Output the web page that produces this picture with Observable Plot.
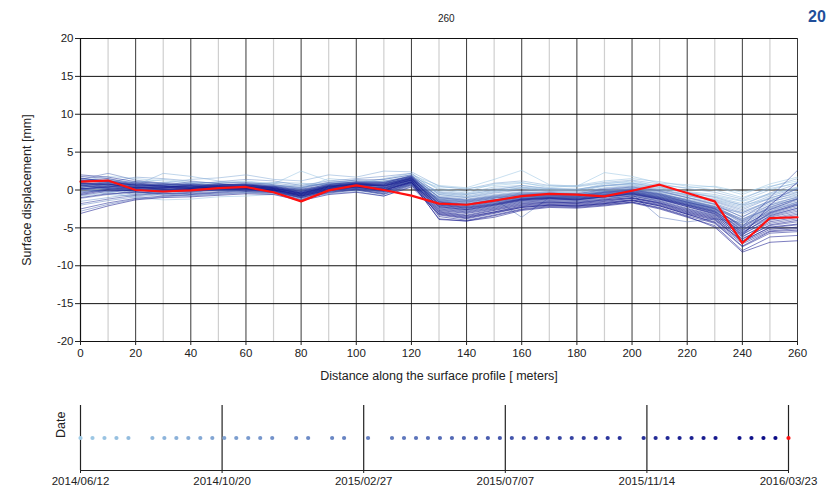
<!DOCTYPE html>
<html><head><meta charset="utf-8">
<script src="https://cdn.jsdelivr.net/npm/d3@7"></script>
<script src="https://cdn.jsdelivr.net/npm/@observablehq/plot@0.6"></script>
<style>
body{margin:0;background:#fff;width:829px;height:496px;overflow:hidden;position:relative;font-family:"Liberation Sans",Arial,sans-serif;}
#main{position:absolute;left:0;top:0}
#dates{position:absolute;left:0;top:390px}
#title{position:absolute;top:13px;left:438px;font:10px "Liberation Sans Narrow","Liberation Sans",sans-serif;color:#222}
#corner{position:absolute;top:8px;left:808px;font:bold 16px "Liberation Sans",sans-serif;color:#1f4e9a}
svg g[aria-label="x-axis label"] text, svg g[aria-label="y-axis label"] text{font-family:"Liberation Sans",Arial,sans-serif;font-size:12.5px;fill:#222}
svg g[aria-label="x-axis tick label"] text, svg g[aria-label="y-axis tick label"] text{font-family:"Liberation Sans Narrow","Liberation Sans",sans-serif;font-size:11.5px;fill:#222}
</style></head><body>
<div id="title">260</div><div id="corner">20</div>
<div id="main"></div><div id="dates"></div>
<script>
// Profile positions [m]
const positions = [0,10,20,30,40,50,60,70,80,90,100,110,120,130,140,150,160,170,180,190,200,210,220,230,240,250,260];
// Acquisition dates (oldest -> newest); the last one is the highlighted (red) profile
const acquisitionDates = [
 "2014-06-12","2014-06-23","2014-07-04","2014-07-15","2014-07-26",
 "2014-08-17","2014-08-28","2014-09-08","2014-09-19","2014-09-30","2014-10-11","2014-10-22","2014-11-02","2014-11-13","2014-11-24","2014-12-05",
 "2014-12-27","2015-01-07","2015-01-29","2015-02-09","2015-03-03",
 "2015-03-25","2015-04-05","2015-04-16","2015-04-27","2015-05-08","2015-05-19","2015-05-30","2015-06-10","2015-06-21","2015-07-02",
 "2015-07-13","2015-07-24","2015-08-04","2015-08-15","2015-08-26","2015-09-06","2015-09-17","2015-09-28","2015-10-09","2015-10-20",
 "2015-11-11","2015-11-22","2015-12-03","2015-12-14","2015-12-25","2016-01-05","2016-01-16",
 "2016-02-07","2016-02-18","2016-02-29","2016-03-11","2016-03-23"];
// Date axis tick labels
const dateTickLabels = ["2014-06-12","2014-10-20","2015-02-27","2015-07-07","2015-11-14","2016-03-23"];
const xTicks = [0,20,40,60,80,100,120,140,160,180,200,220,240,260];
const yTicks = [-20,-15,-10,-5,0,5,10,15,20];
// Surface displacement [mm] per acquisition (blue profiles, oldest first)
const blueProfiles = [
 [0.6,0.8,0.5,0.7,0.4,0.6,0.5,0.3,0.8,0.6,0.9,1.2,1.6,0.4,0.2,0.6,0.9,0.5,0.4,0.9,1.0,0.6,0.3,0.5,-0.3,0.5,1.2],
 [1.5,1.2,1.0,1.4,1.0,0.9,1.2,0.8,2.5,1.2,1.0,1.4,2.0,0.6,0.3,1.4,2.6,0.7,0.5,2.3,1.8,0.9,0.7,0.4,-0.6,0.8,1.7],
 [0.2,-0.2,-1.0,-1.3,-1.2,-0.9,-0.8,-0.6,-0.4,-0.2,0.2,0.8,1.4,-0.5,-0.6,-0.1,0.3,0.2,0.1,0.6,0.8,0.2,-0.3,-0.8,-1.5,-0.5,0.4],
 [1.2,1.8,1.5,1.2,0.9,1.0,1.1,0.7,0.2,1.5,1.2,0.9,1.8,0.2,-0.2,0.8,1.0,0.3,0.6,1.2,1.5,1.1,0.5,0.0,-1.0,0.2,0.9],
 [0.0,0.4,0.8,0.3,0.6,0.2,0.4,0.5,-0.3,0.4,0.5,0.2,1.0,-0.6,-0.9,-0.3,0.2,-0.2,-0.4,0.3,0.6,0.0,-0.6,-1.2,-2.0,-1.2,-0.5],
 [-0.8,-0.4,0.2,0.6,0.5,0.8,0.3,0.0,0.3,0.9,0.8,1.5,2.2,0.0,-0.4,0.4,0.6,0.1,0.0,0.8,1.2,0.5,-0.2,-0.6,-1.4,0.0,1.0],
 [0.8,1.0,0.6,2.2,1.8,1.2,0.8,1.0,0.9,0.7,1.4,1.0,1.5,-0.2,-0.5,0.2,0.4,0.0,-0.2,0.5,0.9,0.3,-0.4,-0.9,-1.8,-0.6,0.3],
 [0.4,0.2,-0.3,-0.5,-0.2,0.1,0.6,0.4,0.0,0.3,0.4,0.6,1.2,-0.8,-1.0,-0.6,-0.2,-0.3,-0.5,0.0,0.4,-0.2,-0.8,-1.4,-2.4,-1.0,-0.2],
 [1.0,0.6,1.2,0.9,1.4,1.6,2.0,1.4,1.2,2.0,1.7,2.5,2.4,0.5,0.1,0.9,1.2,0.6,0.5,1.0,1.3,0.8,0.2,-0.3,-1.2,0.4,1.5],
 [-0.3,0.3,0.0,-0.4,0.2,-0.1,-0.3,-0.4,-0.8,-0.2,0.0,-0.5,0.7,-1.0,-1.3,-0.8,-0.4,-0.5,-0.6,-0.2,0.2,-0.3,-1.0,-1.6,-2.8,-1.5,-0.8],
 [0.9,1.4,0.4,0.2,0.8,0.5,0.9,0.6,0.4,1.0,1.1,0.4,1.3,-0.4,-0.8,-0.2,0.3,-0.1,-0.1,0.6,0.7,0.1,-0.6,-1.3,-2.2,-0.8,0.2],
 [0.3,-0.6,-0.8,-0.4,-0.6,-0.3,0.0,0.2,-0.5,0.6,0.3,0.0,0.9,-1.2,-1.5,-1.0,-0.6,-0.6,-0.7,-0.3,0.0,-0.5,-1.2,-1.9,-3.2,-1.8,-1.0],
 [1.3,1.0,1.7,1.5,1.2,0.8,0.7,0.9,0.5,0.8,0.9,1.2,1.7,-0.3,-0.6,0.0,0.6,0.2,0.1,0.6,0.9,0.4,-0.3,-1.0,-2.0,-0.4,0.8],
 [-1.5,-1.0,-0.5,0.0,-0.3,0.2,0.4,0.0,-0.6,0.2,0.6,0.3,1.1,-1.3,-1.6,-1.1,-0.7,-0.7,-0.8,-0.4,-0.1,-0.6,-1.3,-2.1,-3.5,-2.0,-1.2],
 [0.7,0.9,0.2,0.5,0.0,0.4,0.2,-0.2,-0.9,0.0,0.2,-0.3,0.8,-1.1,-1.4,-0.9,-1.2,-0.8,-0.5,-0.6,-0.3,-0.7,-1.5,-2.3,-3.0,-1.6,-0.6],
 [0.5,0.3,0.9,1.0,0.7,1.1,1.4,1.2,0.6,1.2,1.5,1.8,2.2,-0.6,-1.0,-0.4,0.0,-0.2,-0.3,0.2,0.5,0.0,-0.7,-1.5,-2.6,-1.1,0.1],
 [-2.0,-1.4,-0.9,-0.6,-0.8,-0.5,-0.4,-0.5,-1.2,-0.5,-0.2,-0.8,0.5,-1.6,-1.9,-1.4,-1.0,-0.9,-1.0,-0.7,-0.4,-0.9,-1.6,-2.4,-3.8,-2.5,-1.6],
 [1.1,1.5,0.7,0.4,0.9,0.6,0.5,0.3,0.1,0.5,0.7,0.9,1.5,-0.9,-1.2,-0.7,-0.3,-0.4,-0.5,0.0,0.3,-0.2,-1.0,-1.8,-3.0,-1.4,-0.3],
 [0.1,0.6,0.3,0.8,0.4,0.0,-0.2,0.1,-0.4,0.4,0.5,0.6,1.4,-1.4,-1.7,-1.2,-3.6,-1.0,-0.9,-0.5,-0.2,-0.8,-1.6,-2.5,-4.0,-2.2,-1.2],
 [0.6,0.1,-0.4,-0.2,0.3,0.5,0.8,0.6,0.2,0.9,1.0,1.1,1.9,-1.0,-1.3,-0.8,-0.4,-0.4,-0.6,-0.1,-0.5,-3.6,-4.2,-3.8,-4.3,-2.6,-1.8],
 [-0.5,0.2,0.5,0.1,-0.1,0.3,0.1,-0.2,-0.7,0.1,0.4,0.2,1.2,-1.5,-1.9,-1.3,-0.8,-0.7,-0.8,-0.3,0.0,-0.6,-1.5,-2.4,-4.2,-2.4,-1.4],
 [1.4,2.2,1.3,0.9,0.6,0.4,0.7,0.4,-0.2,0.7,0.9,0.5,1.6,-1.2,-1.5,-1.0,-0.6,-0.5,-0.7,-0.2,0.2,-0.4,-1.3,-2.2,-3.9,-2.0,-0.9],
 [-2.8,-1.9,-1.2,-0.9,-0.7,-0.6,-0.3,-0.4,-1.0,-0.3,0.0,-0.4,0.9,-1.8,-2.2,-1.6,-1.1,-1.0,-1.1,-0.8,-0.5,-1.0,-1.8,-2.7,-4.6,-3.0,-2.0],
 [0.8,0.5,0.0,0.3,0.1,0.7,0.6,0.2,-0.3,0.6,0.8,1.0,1.8,-1.4,-1.8,-1.3,-0.7,-0.6,-0.7,-0.2,0.1,-0.5,-1.4,-2.3,-4.4,-2.8,-1.6],
 [0.2,-0.3,0.4,0.6,0.9,0.3,0.0,-0.3,-0.9,-0.1,0.3,-0.2,0.7,-2.0,-2.4,-1.8,-1.2,-1.1,-1.2,-0.9,-0.6,-1.2,-2.0,-2.9,-5.0,-3.3,-2.4],
 [1.0,1.3,0.8,0.6,1.1,0.9,1.0,0.7,0.3,1.0,1.3,1.4,2.0,-1.0,-1.4,-0.9,-0.5,-0.4,-0.5,0.1,0.4,-0.1,-1.0,-1.9,-3.6,-1.5,0.2],
 [-1.1,-0.6,-0.2,-0.7,-0.4,-0.2,0.2,0.0,-0.5,0.3,0.5,0.1,1.1,-1.7,-2.1,-1.5,-1.0,-0.9,-1.0,-0.6,-0.3,-0.9,-1.7,-2.6,-4.8,-3.2,-2.2],
 [0.4,0.7,1.0,0.5,0.3,0.8,0.4,0.1,0.0,0.5,0.6,0.8,1.5,-1.3,-1.6,-1.1,-0.6,-0.6,-0.8,-0.3,0.0,-0.5,-1.4,-2.2,-4.1,-2.3,-1.1],
 [-0.2,0.0,-0.6,-0.3,0.0,0.4,0.3,0.0,-0.6,0.2,0.4,0.3,1.3,-1.6,-2.0,-1.4,-0.9,-0.8,-0.9,-0.5,-0.2,-0.8,-1.7,-2.5,-4.7,-2.9,-1.9],
 [1.6,1.1,0.6,0.8,0.5,0.2,0.5,0.3,-0.4,0.4,0.7,0.4,1.5,-1.9,-2.3,-1.7,-1.2,-1.0,-1.1,-0.7,-0.4,-1.0,-1.9,-2.8,-5.2,-3.5,-2.6],
 [0.0,0.4,0.2,0.0,-0.2,0.1,0.2,-0.1,-0.8,0.0,0.3,0.0,1.0,-2.2,-2.6,-2.0,-1.4,-1.2,-1.3,-1.0,-0.7,-1.3,-2.2,-3.1,-5.5,-3.8,-3.0],
 [0.9,0.6,0.3,0.4,0.2,0.5,0.7,0.4,-0.2,0.6,0.9,0.7,1.7,-1.5,-1.9,-1.3,-0.8,-0.7,-0.8,-0.3,0.0,-0.6,-1.6,-2.5,-4.9,-1.0,2.6],
 [-0.7,-0.2,0.1,-0.1,0.2,0.0,-0.1,-0.3,-1.0,-0.2,0.1,-0.3,0.8,-2.4,-2.8,-2.2,-1.5,-1.3,-1.4,-1.1,-0.8,-1.4,-2.4,-3.3,-5.8,-4.0,-3.4],
 [0.5,1.0,0.5,0.2,0.4,0.6,0.3,0.2,-0.5,0.3,0.6,0.6,1.4,-1.8,-2.2,-1.6,-1.1,-0.9,-1.0,-0.6,-0.2,-0.9,-1.8,-2.7,-5.3,-3.0,-1.8],
 [1.8,1.5,0.9,0.7,0.6,0.3,0.4,0.0,-0.7,0.1,0.5,0.2,1.2,-2.6,-3.0,-2.4,-1.7,-1.5,-1.6,-1.3,-1.0,-1.6,-2.6,-3.5,-6.1,-4.4,-3.8],
 [-1.8,-1.2,-0.7,-0.4,-0.5,-0.3,0.0,-0.2,-0.9,0.0,0.3,0.0,1.0,-2.1,-2.5,-1.9,-1.3,-1.1,-1.2,-0.9,-0.5,-1.1,-2.0,-3.0,-5.6,-3.6,-2.8],
 [0.3,0.8,0.0,0.2,0.7,0.4,0.6,0.5,-0.1,0.8,1.0,0.9,1.9,-1.6,-2.0,-1.5,-0.9,-0.8,-0.9,-0.4,-0.1,-0.7,-1.6,-2.4,-5.0,-2.6,-1.2],
 [0.7,0.2,-0.2,-0.5,-0.3,0.0,0.1,-0.2,-1.1,-0.4,0.0,-0.6,0.6,-2.8,-3.3,-2.6,-1.9,-1.6,-1.7,-1.4,-1.1,-1.7,-2.8,-3.7,-6.4,-4.7,-4.2],
 [1.2,0.9,0.5,0.6,0.3,0.7,0.8,0.5,0.1,0.7,1.1,1.0,1.8,-1.9,-2.3,-1.8,-1.2,-1.0,-1.1,-0.7,-0.3,-1.0,-1.9,-2.8,-5.4,-3.1,-2.0],
 [-0.4,0.1,0.3,0.1,0.0,0.2,0.3,0.1,-0.6,0.2,0.5,0.1,1.1,-3.0,-3.5,-2.9,-2.1,-1.8,-1.9,-1.6,-1.3,-1.9,-3.0,-3.9,-6.7,-5.0,-4.6],
 [2.0,1.7,1.1,0.8,0.7,0.5,0.4,0.3,-0.3,0.5,0.8,0.5,1.6,-2.3,-2.7,-2.1,-1.4,-1.2,-1.3,-0.9,-0.6,-1.2,-2.1,-3.1,-5.9,-3.9,-3.2],
 [-2.5,-1.7,-1.1,-0.8,-0.6,-0.4,-0.2,-0.3,-1.3,-0.3,0.1,-0.5,0.7,-3.3,-3.8,-3.1,-2.3,-2.0,-2.1,-1.8,-1.4,-2.1,-3.2,-4.2,-7.1,-5.4,-5.1],
 [0.6,0.4,0.8,0.5,0.2,0.5,0.5,0.2,-0.4,0.4,0.8,0.7,1.6,-2.0,-2.4,-1.9,-1.2,-1.0,-1.2,-0.8,-0.4,-1.1,-2.0,-2.9,-5.7,-3.4,-2.4],
 [0.1,0.5,0.2,0.3,0.5,0.1,0.0,-0.1,-0.8,0.1,0.4,0.2,1.3,-3.5,-4.0,-3.3,-2.5,-2.1,-2.2,-1.9,-1.6,-2.3,-3.4,-4.4,-7.5,-5.7,-5.5],
 [1.3,1.1,0.6,0.4,0.6,0.8,0.6,0.4,-0.2,0.6,0.9,0.8,1.7,-2.5,-2.9,-2.3,-1.6,-1.4,-1.5,-1.2,-0.8,-1.5,-2.5,-3.4,-6.2,-4.2,-3.6],
 [-1.0,-0.5,-0.3,-0.2,-0.1,0.0,0.1,-0.1,-1.0,-0.1,0.2,-0.2,0.9,-3.8,-4.1,-3.6,-2.7,-2.3,-2.4,-2.1,-1.7,-2.5,-3.6,-4.7,-8.0,-6.2,-6.0],
 [0.8,0.7,0.4,0.1,0.3,0.4,0.2,0.0,-0.6,0.3,0.6,0.3,1.4,-2.7,-3.1,-2.5,-1.8,-1.6,-1.7,-1.3,-1.0,-1.7,-2.7,-3.6,-6.5,-4.6,-4.0],
 [-3.1,-2.1,-1.3,-1.0,-0.9,-0.7,-0.5,-0.6,-1.4,-0.6,-0.3,-0.8,0.4,-3.1,-3.6,-2.9,-2.2,-1.9,-2.0,-1.7,-1.3,-2.0,-3.1,-4.0,-6.9,-5.2,-4.9],
 [1.5,1.2,0.7,0.5,0.4,0.6,0.7,0.3,-0.4,0.5,0.8,0.6,1.5,-2.2,-2.6,-2.0,-1.3,-1.1,-1.3,-0.9,-0.5,-1.2,-2.2,-3.2,-6.0,-2.0,1.0],
 [0.2,0.3,0.0,-0.2,0.1,0.3,0.4,0.1,-0.7,0.2,0.5,0.0,1.1,-3.9,-4.1,-3.4,-2.6,-2.2,-2.3,-2.0,-1.6,-2.4,-3.5,-4.9,-8.2,-6.9,-6.7],
 [0.9,0.8,0.3,0.3,0.2,0.4,0.5,0.2,-0.5,0.4,0.7,0.5,1.3,-2.9,-3.4,-2.7,-2.0,-1.7,-1.8,-1.5,-1.1,-1.8,-2.9,-3.8,-6.8,-4.9,-4.5],
 [-0.6,0.0,-0.1,0.0,0.0,0.2,0.2,0.0,-0.8,0.0,0.4,-0.1,1.0,-3.2,-3.7,-3.0,-2.3,-2.0,-2.1,-1.8,-1.4,-2.1,-3.2,-4.3,-7.4,-5.5,-5.3]
];
// Latest profile (2016-03-23), drawn in red
const latestProfile = [1.1,1.25,0.0,-0.2,-0.05,0.25,0.4,-0.3,-1.5,-0.05,0.6,0.0,-0.75,-1.8,-1.95,-1.4,-0.8,-0.5,-0.6,-0.85,-0.1,0.7,-0.4,-1.5,-7.0,-3.7,-3.6];

const nBlue = blueProfiles.length;
const ramp = d3.interpolateRgb("#9fcbe6", "#0a0a86");
const colorOf = i => ramp(i / (nBlue - 1));
const parse = d3.utcParse("%Y-%m-%d");
const plainNum = d => String(d);

const blueRows = [];
blueProfiles.forEach((vals, i) => vals.forEach((v, j) => blueRows.push({pos: positions[j], disp: v, i, color: colorOf(i)})));
const redRows = latestProfile.map((v, j) => ({pos: positions[j], disp: v}));
const minorX = positions.filter(p => p % 20 !== 0);
const majorX = positions.filter(p => p % 20 === 0 && p > 0);

const main = Plot.plot({
  width: 829, height: 385,
  marginLeft: 80, marginRight: 32, marginTop: 38, marginBottom: 44,
  style: {fontFamily: "'Liberation Sans Narrow','Liberation Sans',sans-serif", fontSize: "11.5px", color: "#222", background: "transparent"},
  x: {domain: [0, 260]},
  y: {domain: [-20, 20]},
  marks: [
    Plot.ruleX(minorX, {stroke: "#cfcfcf", strokeWidth: 1.2}),
    Plot.ruleX(majorX, {stroke: "#3a3a3a", strokeWidth: 1}),
    Plot.ruleY(yTicks, {stroke: "#111", strokeWidth: 1}),
    Plot.line(blueRows, {x: "pos", y: "disp", z: "i", stroke: "color", strokeOpacity: 0.55, strokeWidth: 1}),
    Plot.line(redRows, {x: "pos", y: "disp", stroke: "#ff1010", strokeWidth: 2.2}),
    Plot.ruleX([0], {stroke: "#111", strokeWidth: 1.2}),
    Plot.axisX({ticks: xTicks, tickFormat: plainNum, tickSize: 4, tickPadding: 3, label: "Distance along the surface profile [ meters]", labelAnchor: "center", labelArrow: "none", labelOffset: 38}),
    Plot.axisY({ticks: yTicks, tickFormat: plainNum, tickSize: 5, tickPadding: 2, label: "Surface displacement [mm]", labelAnchor: "center", labelArrow: "none", labelOffset: 58})
  ]
});
document.getElementById("main").append(main);

const blueDates = acquisitionDates.slice(0, -1).map((d, i) => ({date: parse(d), color: colorOf(i)}));
const lastDate = [{date: parse(acquisitionDates[acquisitionDates.length - 1])}];
const tickDates = dateTickLabels.map(parse);

const datePlot = Plot.plot({
  width: 829, height: 106,
  marginLeft: 80, marginRight: 41, marginTop: 15, marginBottom: 26,
  style: {fontFamily: "'Liberation Sans Narrow','Liberation Sans',sans-serif", fontSize: "11.5px", color: "#222", background: "transparent"},
  x: {type: "utc", domain: [tickDates[0], tickDates[tickDates.length - 1]]},
  marks: [
    Plot.ruleX(tickDates, {stroke: "#222", strokeWidth: 1.2}),
    Plot.frame({anchor: "bottom", stroke: "#222"}),
    Plot.dot(blueDates, {x: "date", fill: "color", r: 2.1, frameAnchor: "middle"}),
    Plot.dot(lastDate, {x: "date", fill: "#ff1010", r: 2.1, frameAnchor: "middle"}),
    Plot.axisX({ticks: tickDates, tickFormat: d3.utcFormat("%Y/%m/%d"), tickSize: 3, tickPadding: 3, label: null}),
    Plot.text(["Date"], {frameAnchor: "left", dx: -20, rotate: -90, fontSize: 12.5, fontFamily: "'Liberation Sans',sans-serif", fill: "#222"})
  ]
});
document.getElementById("dates").append(datePlot);
</script>
</body></html>
